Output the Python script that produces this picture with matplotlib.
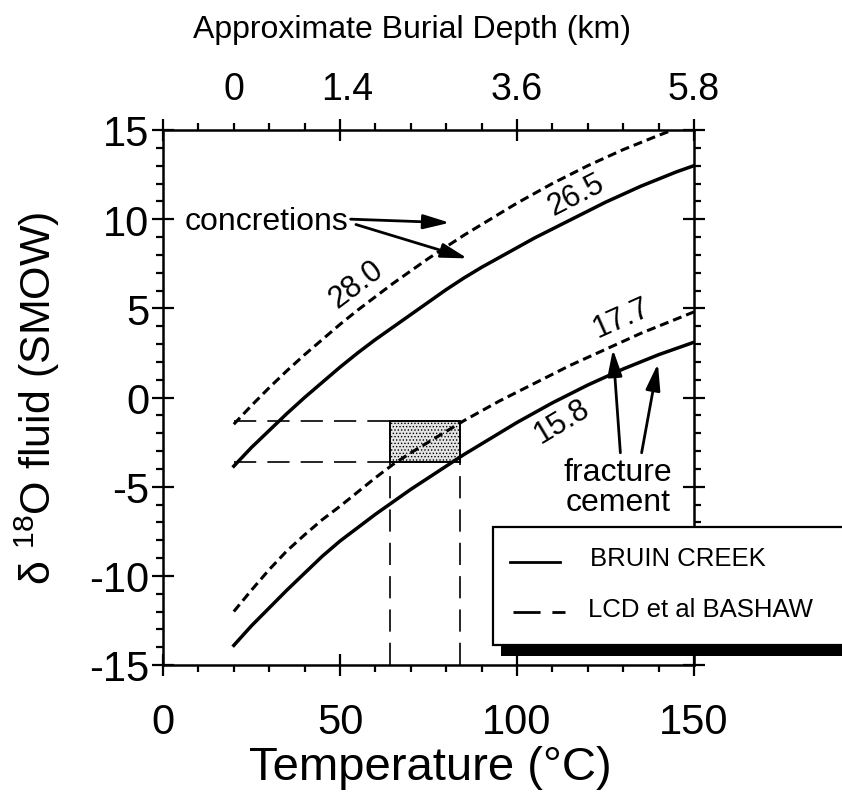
import matplotlib
matplotlib.use('Agg')
import matplotlib.pyplot as plt
from matplotlib.patches import Rectangle
from matplotlib.lines import Line2D
from matplotlib.ticker import MultipleLocator

plt.rcParams['font.family'] = ['Liberation Sans', 'DejaVu Sans']
plt.rcParams['mathtext.default'] = 'regular'
plt.rcParams['axes.unicode_minus'] = False
plt.rcParams['lines.scale_dashes'] = False
plt.rcParams['hatch.color'] = '#8a8a8a'
plt.rcParams['hatch.linewidth'] = 0.6

# Temperature grid (deg C)
temps = [20, 25, 30, 35, 40, 45, 50, 55, 60, 65, 70, 75, 80, 85,
         90, 95, 100, 105, 110, 115, 120, 125, 130, 135, 140, 145, 150]

# Bruin Creek (solid curves), delta 18O of the fluid (SMOW)
bruin_concretion = [-3.85, -2.8, -1.85, -0.9, 0.0, 0.85, 1.7, 2.5, 3.25, 3.95, 4.65, 5.35, 6.05, 6.7,
                    7.3, 7.85, 8.4, 8.95, 9.45, 9.95, 10.45, 10.95, 11.4, 11.85, 12.25, 12.65, 13.0]
bruin_fracture = [-13.9, -12.8, -11.8, -10.8, -9.85, -8.9, -8.05, -7.3, -6.55, -5.85, -5.15, -4.5, -3.85, -3.2,
                  -2.6, -2.0, -1.4, -0.85, -0.3, 0.2, 0.7, 1.15, 1.6, 2.0, 2.4, 2.75, 3.1]

# LCD et al Bashaw (dashed curves); the concretion curve leaves the top of the frame
bashaw_concretion_T = [20, 25, 30, 35, 40, 45, 50, 55, 60, 65, 70, 75, 80, 85,
                       90, 95, 100, 105, 110, 115, 120, 125, 130, 135, 140, 144]
bashaw_concretion = [-1.5, -0.45, 0.55, 1.5, 2.4, 3.25, 4.1, 4.9, 5.65, 6.4, 7.1, 7.8, 8.45, 9.1,
                     9.7, 10.3, 10.9, 11.45, 12.0, 12.5, 13.0, 13.45, 13.9, 14.3, 14.7, 15.0]
bashaw_fracture = [-12.0, -10.8, -9.65, -8.6, -7.7, -6.85, -6.1, -5.3, -4.5, -3.75, -3.1, -2.5, -1.9, -1.3,
                   -0.75, -0.2, 0.3, 0.8, 1.3, 1.8, 2.25, 2.7, 3.15, 3.6, 4.0, 4.4, 4.8]

# Overlap window between the two fracture cement curves
window_T = [64, 84]
window_d18O = [-3.6, -1.3]

# Burial depth labels on the top axis
depth_T = [20, 52, 100, 150]
depth_labels = ['0', '1.4', '3.6', '5.8']

# Calcite delta 18O values written along the curves
curve_labels = ['28.0', '26.5', '17.7', '15.8']

W, H = 842, 803
fig = plt.figure(figsize=(W / 100, H / 100), dpi=100)
ax = fig.add_axes([163 / W, 1 - 666 / H, 531 / W, 535 / H])


def fig_xy(x, y):
    # pixel position (from top-left) -> figure fraction
    return x / W, 1 - y / H


sdash = (6.5, 3.6)
ax.plot(temps, bruin_concretion, color='black', lw=2.5, zorder=4)
ax.plot(temps, bruin_fracture, color='black', lw=2.5, zorder=4)
ax.plot(bashaw_concretion_T, bashaw_concretion, color='black', lw=2.2,
        dashes=sdash, zorder=4)
ax.plot(temps, bashaw_fracture, color='black', lw=2.2, dashes=sdash, zorder=4)

# shaded window and its projections onto the axes
t0, t1 = window_T
d0, d1 = window_d18O
ax.add_patch(Rectangle((t0, d0), t1 - t0, d1 - d0, facecolor='#e4e4e4',
                       edgecolor='black', lw=1.4, hatch='.....', zorder=2))
gdash = (16, 8)
for d in window_d18O:
    ax.plot([temps[0], t0], [d, d], color='black', lw=1.2, dashes=gdash, zorder=3)
for t in window_T:
    ax.plot([t, t], [-15, d0], color='black', lw=1.2, dashes=gdash, zorder=3)

label_pos = [(54.5, 6.4, 37), (116.8, 11.4, 27), (129.6, 4.5, 24), (112.8, -1.3, 31)]
for txt, (x, y, rot) in zip(curve_labels, label_pos):
    ax.text(x, y, txt, fontsize=22, rotation=rot, ha='center', va='center',
            rotation_mode='anchor', zorder=5)

arrow = dict(arrowstyle='-|>,head_length=0.8,head_width=0.22', lw=2,
             color='black', shrinkA=0, shrinkB=0, mutation_scale=20)
ax.text(52.5, 9.9, 'concretions', fontsize=23, ha='right', va='center')
ax.annotate('', xy=(81.0, 9.8), xytext=(53.0, 10.0), arrowprops=arrow)
ax.annotate('', xy=(86.0, 7.8), xytext=(54.5, 9.7), arrowprops=arrow)

ax.text(128.5, -5.0, 'fracture\ncement', fontsize=23, ha='center', va='center',
        linespacing=1.0)
ax.annotate('', xy=(127.1, 2.7), xytext=(129.2, -3.1), arrowprops=arrow)
ax.annotate('', xy=(139.8, 1.9), xytext=(135.2, -3.1), arrowprops=arrow)

ax.set_xlim(0, 150)
ax.set_ylim(-15, 15)
ax.xaxis.set_major_locator(MultipleLocator(50))
ax.xaxis.set_minor_locator(MultipleLocator(10))
ax.yaxis.set_major_locator(MultipleLocator(5))
ax.yaxis.set_minor_locator(MultipleLocator(1))
ax.tick_params(which='major', direction='inout', length=16, width=1.6,
               top=True, right=True, labelsize=30)
ax.tick_params(axis='x', which='major', pad=19)
ax.tick_params(axis='y', which='major', pad=2)
ax.tick_params(which='minor', direction='out', length=5, width=1.6,
               top=True, right=True)
for s in ax.spines.values():
    s.set_linewidth(1.8)

ax.set_xlabel('Temperature (°C)', fontsize=34)
ax.xaxis.set_label_coords(0.503, -0.15)
ax.set_ylabel('δ $^{18}$O fluid (SMOW)', fontsize=31)
ax.yaxis.set_label_coords(-0.19, 0.5)

for t, lab in zip(depth_T, depth_labels):
    ax.text(t, 1.077, lab, transform=ax.get_xaxis_transform(), fontsize=27,
            ha='center', va='center')
fig.text(*fig_xy(412, 30), 'Approximate Burial Depth (km)', fontsize=23,
         ha='center', va='center')

# legend box with drop shadow, running off the right edge
fig.add_artist(Rectangle(fig_xy(501, 657), 360 / W, 118 / H,
                         transform=fig.transFigure, facecolor='black',
                         edgecolor='none', zorder=10))
fig.add_artist(Rectangle(fig_xy(493, 646), 360 / W, 118 / H,
                         transform=fig.transFigure, facecolor='white',
                         edgecolor='black', lw=1.6, zorder=11))
x0, y0 = fig_xy(510, 563)
x1, _ = fig_xy(560, 563)
fig.add_artist(Line2D([x0, x1], [y0, y0], transform=fig.transFigure,
                      color='black', lw=2, zorder=12))
x0, y0 = fig_xy(513, 613)
x1, _ = fig_xy(565, 613)
fig.add_artist(Line2D([x0, x1], [y0, y0], transform=fig.transFigure,
                      color='black', lw=2, dashes=(19.5, 8.5), zorder=12))
fig.text(*fig_xy(590, 559), 'BRUIN CREEK', fontsize=18.5, va='center', zorder=12)
fig.text(*fig_xy(588, 610), 'LCD et al BASHAW', fontsize=18.5, va='center', zorder=12)

fig.savefig('out.png', dpi=100)
